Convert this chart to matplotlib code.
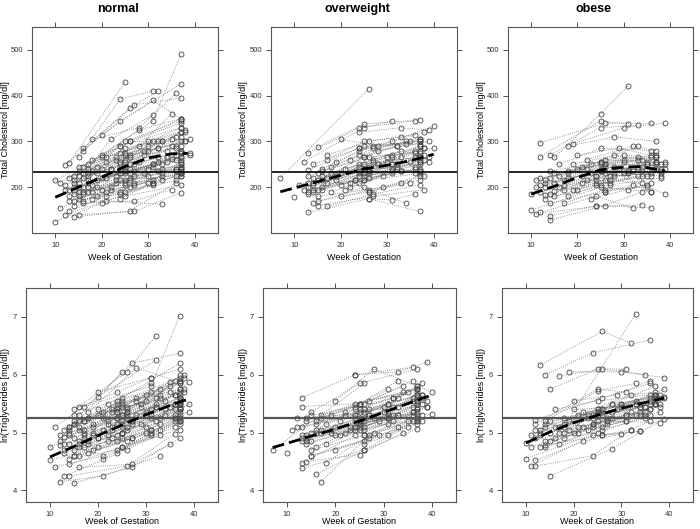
import numpy as np
import matplotlib.pyplot as plt

plt.rcParams['font.family'] = ['Liberation Sans', 'DejaVu Sans']

#--------------------
# data: one entry per woman, visits in weeks, cholesterol and ln(triglycerides)

groups = ["normal", "overweight", "obese"]

normal_weeks = [
    [10, 24, 37], [10, 20, 31], [11, 20, 32], [11, 21, 33], [12, 24, 37], [12, 21, 33],
    [13, 25], [13, 26, 37], [14, 26, 36], [15, 27, 37], [15, 24, 31], [16, 26, 32],
    [16, 27, 37], [17, 31, 37], [18, 28, 36], [20, 31, 37], [14, 22, 31], [15, 25, 35],
    [16, 24, 37], [14, 25, 37], [15, 26, 36], [16, 25, 37], [17, 27, 37], [14, 24, 36],
    [15, 25, 37], [16, 26, 38], [17, 26, 37], [18, 27, 37], [19, 29, 37], [20, 30, 38],
    [13, 24, 36], [14, 25, 37], [15, 24, 33], [16, 25, 36], [17, 25, 37], [18, 26, 37],
    [19, 30, 39], [20, 31, 39], [21, 31, 37], [22, 32, 38], [24, 33, 37], [25, 32, 37],
    [26, 34, 37], [24, 31, 36], [25, 33, 37], [12, 24, 35], [13, 22, 30], [14, 23, 32],
    [15, 25, 31], [16, 27, 35], [17, 24, 32], [18, 29, 37], [19, 27, 36], [16, 26, 37],
    [15, 23, 33], [20, 28, 37], [23, 30, 37], [14, 24, 37], [17, 25, 33], [21, 29, 36],
    [12, 22, 34], [13, 23, 35], [14, 26, 37], [15, 24, 37], [16, 25, 34], [17, 26, 36],
    [18, 28, 37], [19, 25, 37], [20, 27, 37], [21, 30, 38], [22, 31, 37], [23, 32, 37],
    [24, 30, 36], [13, 21, 31], [14, 25, 33], [16, 27, 37], [17, 28, 37], [18, 25, 35],
    [15, 26, 36], [19, 31, 39],
]
normal_chol = [
    [215, 290, 350], [125, 165, 210], [210, 265, 300], [155, 190, 225], [248, 345, 425], [140, 170, 163],
    [253, 430], [148, 200, 240], [135, 148, 210], [140, 147, 188], [265, 393, 410], [285, 372, 410],
    [280, 380, 395], [250, 345, 490], [305, 330, 405], [315, 390, 350], [200, 305, 358], [210, 260, 360],
    [230, 290, 330], [195, 235, 245], [175, 215, 240], [185, 230, 260], [200, 250, 280], [170, 185, 215],
    [190, 205, 230], [220, 270, 300], [210, 240, 265], [175, 205, 225], [230, 270, 310], [240, 290, 320],
    [180, 215, 225], [160, 180, 205], [200, 230, 250], [200, 255, 290], [230, 300, 345], [260, 300, 300],
    [245, 280, 305], [220, 250, 275], [180, 205, 230], [240, 285, 300], [255, 300, 320], [210, 235, 240],
    [230, 265, 255], [175, 210, 235], [190, 215, 225], [195, 230, 262], [170, 195, 210], [225, 260, 285],
    [235, 285, 300], [165, 170, 195], [215, 240, 265], [190, 230, 245], [200, 235, 270], [245, 300, 340],
    [180, 210, 230], [270, 325, 350], [225, 240, 275], [210, 250, 290], [190, 215, 240], [255, 280, 310],
    [205, 240, 280], [220, 265, 305], [185, 220, 250], [245, 275, 320], [190, 235, 255], [225, 265, 285],
    [205, 255, 275], [215, 245, 235], [195, 225, 250], [265, 300, 325], [200, 245, 265], [215, 255, 280],
    [190, 225, 240], [195, 220, 250], [215, 270, 300], [170, 210, 230], [240, 290, 330], [235, 275, 290],
    [225, 250, 260], [180, 215, 270],
]
normal_trig = [
    [4.75, 5.35, 5.85], [4.52, 4.75, 5.05], [5.10, 5.62, 6.25], [4.40, 4.60, 4.95], [4.78, 5.55, 6.20], [4.15, 4.25, 4.60],
    [4.93, 6.05], [4.25, 4.70, 5.20], [4.25, 4.42, 4.98], [4.13, 4.40, 4.90], [5.40, 5.70, 5.95], [5.45, 6.05, 6.67],
    [5.30, 6.20, 6.37], [5.45, 5.80, 7.02], [5.35, 6.12, 5.90], [5.70, 5.95, 6.10], [5.05, 5.50, 5.85], [4.90, 5.30, 5.88],
    [5.20, 5.50, 5.75], [5.00, 5.20, 5.35], [4.60, 4.85, 5.20], [4.85, 5.10, 5.45], [4.90, 5.20, 5.60], [4.55, 4.70, 5.10],
    [4.70, 4.90, 5.25], [5.05, 5.40, 5.70], [4.95, 5.25, 5.50], [4.65, 4.90, 5.15], [5.15, 5.45, 5.75], [5.30, 5.55, 5.95],
    [4.70, 4.95, 5.25], [4.45, 4.75, 5.05], [5.15, 5.40, 5.60], [4.80, 5.00, 5.40], [5.20, 5.55, 5.95], [5.25, 5.30, 5.55],
    [5.00, 5.30, 5.88], [4.90, 5.25, 5.35], [4.55, 4.95, 5.25], [5.15, 5.50, 5.75], [5.35, 5.65, 6.00], [5.00, 5.20, 5.30],
    [5.05, 5.30, 5.40], [4.65, 5.00, 5.25], [4.75, 5.05, 5.20], [4.85, 5.15, 5.45], [4.65, 4.85, 5.00], [5.10, 5.35, 5.60],
    [5.30, 5.60, 5.70], [4.40, 4.45, 4.80], [5.00, 5.25, 5.45], [4.80, 5.15, 5.50], [4.95, 5.20, 5.50], [5.10, 5.45, 5.65],
    [4.60, 4.90, 5.15], [5.40, 5.60, 5.90], [5.10, 5.35, 5.50], [4.95, 5.25, 5.60], [4.75, 5.00, 5.25], [5.25, 5.50, 5.65],
    [4.95, 5.20, 5.55], [5.05, 5.40, 5.80], [4.80, 5.10, 5.45], [5.15, 5.45, 5.90], [4.75, 5.15, 5.40], [5.05, 5.35, 5.65],
    [4.85, 5.30, 5.60], [5.10, 5.30, 5.40], [4.90, 5.15, 5.40], [5.35, 5.65, 6.00], [4.95, 5.30, 5.55], [5.05, 5.45, 5.70],
    [4.85, 5.10, 5.30], [4.80, 5.05, 5.40], [5.10, 5.45, 5.75], [4.60, 4.90, 5.20], [5.20, 5.55, 5.85], [5.25, 5.50, 5.70],
    [5.20, 5.35, 5.50], [4.70, 5.05, 5.50],
]

overweight_weeks = [
    [7, 26], [10], [11, 24, 33], [12, 25, 31], [13, 24, 36], [13, 26, 37],
    [13, 25, 37], [14, 25, 34], [15, 25, 37], [15, 27, 38], [16, 26, 35], [17, 27, 37],
    [17, 26, 36], [18, 28, 39], [20, 28, 40], [24, 33, 39], [13, 25, 37], [14, 24, 33],
    [15, 25, 36], [16, 27, 37], [13, 23, 31], [14, 26, 37], [15, 24, 34], [16, 25, 37],
    [17, 26, 38], [18, 27, 37], [19, 31, 40], [20, 29, 37], [21, 31, 39], [22, 32, 37],
    [24, 32, 37], [25, 33, 37], [26, 31, 36], [24, 31, 38], [13, 24, 32], [14, 25, 33],
    [15, 26, 37], [16, 24, 35], [17, 25, 33], [19, 28, 36], [12, 22, 32], [14, 24, 37],
    [20, 30, 38], [25, 31, 36], [22, 29, 37], [13, 25, 36], [14, 26, 37], [15, 25, 37],
    [16, 26, 38], [17, 27, 37], [18, 26, 36], [19, 27, 37], [20, 31, 39], [21, 30, 37],
    [23, 31, 38], [25, 32, 37], [26, 33, 38], [14, 24, 34], [15, 26, 35], [16, 25, 36],
    [13, 26, 37], [24, 31, 37],
]
overweight_chol = [
    [220, 415], [178], [205, 250, 280], [255, 330, 345], [275, 330, 345], [145, 175, 147],
    [238, 290, 300], [165, 200, 165], [288, 338, 347], [160, 180, 195], [200, 235, 255], [158, 185, 205],
    [270, 300, 315], [230, 280, 300], [305, 290, 333], [320, 330, 325], [200, 240, 250], [190, 225, 235],
    [215, 250, 265], [225, 260, 290], [185, 215, 230], [220, 245, 265], [230, 270, 300], [195, 225, 240],
    [210, 240, 285], [245, 285, 305], [225, 270, 285], [180, 200, 225], [195, 235, 255], [260, 290, 305],
    [210, 240, 260], [240, 265, 275], [175, 172, 185], [285, 300, 320], [210, 235, 250], [205, 215, 235],
    [180, 195, 215], [240, 280, 300], [260, 300, 310], [215, 250, 280], [195, 210, 245], [195, 245, 235],
    [230, 255, 270], [230, 250, 230], [200, 225, 235], [225, 265, 275], [210, 230, 255], [195, 215, 230],
    [235, 265, 285], [220, 255, 265], [190, 220, 240], [255, 290, 300], [205, 240, 265], [240, 265, 280],
    [215, 250, 260], [265, 290, 295], [190, 210, 225], [250, 285, 295], [170, 190, 210], [215, 240, 245],
    [190, 235, 255], [230, 265, 290],
]
overweight_trig = [
    [4.70, 5.85], [4.65], [5.05, 5.30, 5.60], [5.10, 5.50, 5.75], [5.60, 6.00, 6.13], [4.38, 4.70, 5.07],
    [5.45, 5.50, 5.75], [4.50, 4.62, 5.00], [5.35, 5.85, 6.10], [4.60, 4.90, 5.20], [4.28, 4.70, 5.10], [4.15, 4.95, 5.25],
    [5.25, 5.50, 5.90], [4.48, 5.00, 5.45], [5.55, 6.10, 5.70], [6.00, 6.05, 6.22], [4.90, 5.20, 5.40], [4.80, 5.05, 5.30],
    [5.00, 5.25, 5.45], [5.20, 5.30, 5.60], [4.85, 5.10, 5.25], [5.25, 5.35, 5.55], [5.30, 5.45, 5.80], [4.75, 5.10, 5.35],
    [5.00, 5.25, 5.60], [5.15, 5.40, 5.65], [5.05, 5.30, 5.32], [4.70, 4.95, 5.20], [4.95, 5.15, 5.45], [5.35, 5.60, 5.80],
    [5.10, 5.30, 5.50], [5.20, 5.45, 5.70], [4.80, 4.95, 5.20], [5.30, 5.50, 5.85], [4.47, 4.95, 5.20], [4.95, 5.15, 5.30],
    [4.60, 4.85, 5.15], [5.05, 5.40, 5.70], [5.30, 5.50, 5.90], [5.00, 5.25, 5.60], [5.25, 5.30, 5.45], [4.85, 5.10, 5.20],
    [5.10, 5.35, 5.65], [5.15, 5.25, 5.35], [5.00, 5.20, 5.30], [5.10, 5.35, 5.55], [4.90, 5.10, 5.40], [4.85, 5.05, 5.25],
    [5.15, 5.40, 5.65], [5.05, 5.30, 5.55], [4.80, 5.05, 5.35], [5.30, 5.55, 5.75], [4.95, 5.25, 5.55], [5.20, 5.45, 5.65],
    [5.05, 5.35, 5.50], [5.40, 5.60, 5.75], [4.95, 5.10, 5.30], [5.20, 5.50, 5.70], [4.70, 4.95, 5.20], [5.00, 5.20, 5.30],
    [4.95, 5.20, 5.45], [5.25, 5.50, 5.80],
]

obese_weeks = [
    [10, 25, 36], [11, 24, 34], [12, 26, 36], [12, 25, 31], [12, 24, 32], [13, 26, 32],
    [14, 24, 36], [14, 26, 34], [14, 25, 33], [15, 25, 31], [15, 28, 39], [17, 26, 35],
    [18, 28, 37], [19, 30, 39], [18, 33], [10, 22, 32], [11, 23, 34], [12, 25, 36],
    [13, 24, 33], [14, 26, 37], [15, 25, 34], [16, 27, 38], [17, 26, 35], [18, 27, 36],
    [19, 28, 37], [20, 30, 39], [21, 31, 38], [22, 32, 37], [24, 33, 38], [25, 34, 39],
    [26, 32, 36], [12, 22, 30], [13, 25, 35], [14, 24, 34], [16, 25, 36], [17, 28, 37],
    [19, 27, 35], [20, 29, 36], [11, 21, 31], [15, 26, 37], [18, 30, 38], [23, 31, 36],
    [12, 24, 35], [13, 26, 37], [14, 25, 36], [15, 27, 38], [16, 26, 37], [17, 25, 34],
    [18, 29, 39], [20, 28, 36], [21, 30, 37], [24, 31, 38], [25, 33, 37], [13, 23, 33],
    [14, 26, 35],
]
obese_chol = [
    [150, 200, 190], [142, 158, 162], [297, 340, 340], [267, 345, 338], [145, 180, 155], [182, 215, 235],
    [137, 160, 155], [128, 160, 190], [270, 330, 335], [265, 360, 422], [192, 230, 185], [195, 230, 250],
    [290, 310, 300], [295, 330, 340], [230, 290], [185, 215, 240], [215, 250, 260], [205, 235, 245],
    [175, 205, 225], [220, 260, 270], [230, 250, 235], [200, 225, 230], [165, 195, 200], [180, 215, 225],
    [250, 270, 255], [240, 255, 255], [210, 230, 240], [260, 290, 280], [225, 245, 235], [205, 225, 240],
    [190, 205, 190], [220, 240, 230], [200, 240, 255], [185, 215, 210], [250, 285, 280], [215, 245, 240],
    [195, 210, 225], [270, 285, 270], [200, 225, 235], [210, 250, 265], [235, 260, 250], [175, 195, 210],
    [190, 225, 250], [215, 245, 255], [235, 255, 265], [180, 205, 220], [225, 250, 250], [205, 235, 245],
    [220, 240, 250], [195, 225, 230], [245, 270, 265], [210, 230, 225], [255, 265, 255], [210, 230, 260],
    [165, 190, 205],
]
obese_trig = [
    [4.55, 5.00, 5.30], [4.42, 4.95, 5.02], [5.22, 5.60, 5.85], [5.15, 5.75, 5.70], [4.42, 4.60, 5.05], [6.17, 6.75, 6.55],
    [6.00, 6.38, 6.60], [4.78, 4.95, 5.02], [5.20, 5.72, 5.85], [5.75, 6.10, 6.10], [4.25, 4.72, 5.24], [5.98, 6.10, 6.00],
    [5.00, 5.50, 5.80], [6.05, 6.05, 5.95], [5.10, 7.05], [4.82, 5.10, 5.35], [4.95, 5.30, 5.50], [5.05, 5.40, 5.55],
    [4.75, 5.10, 5.30], [5.10, 5.40, 5.60], [5.20, 5.35, 5.45], [4.90, 5.20, 5.17], [4.80, 5.10, 5.30], [4.90, 5.25, 5.50],
    [5.20, 5.50, 5.60], [5.40, 5.45, 5.75], [5.10, 5.30, 5.45], [5.35, 5.65, 5.70], [5.30, 5.50, 5.60], [5.20, 5.35, 5.60],
    [4.95, 5.05, 5.20], [4.52, 4.85, 4.97], [4.95, 5.30, 5.45], [4.85, 5.15, 5.30], [5.40, 5.55, 5.65], [5.10, 5.35, 5.50],
    [5.05, 5.20, 5.35], [5.55, 5.65, 5.90], [4.75, 5.00, 5.20], [5.00, 5.35, 5.50], [5.25, 5.50, 5.65], [5.05, 5.20, 5.40],
    [4.90, 5.25, 5.45], [5.00, 5.30, 5.50], [5.15, 5.40, 5.60], [4.85, 5.15, 5.35], [5.10, 5.40, 5.55], [5.00, 5.30, 5.45],
    [5.15, 5.40, 5.62], [5.00, 5.25, 5.40], [5.30, 5.50, 5.65], [5.15, 5.30, 5.50], [5.35, 5.55, 5.65], [5.05, 5.25, 5.50],
    [4.75, 5.05, 5.25],
]

# smoothed group trend
normal_smooth_weeks = [10, 15, 20, 25, 30, 35, 38.5]
normal_smooth_chol = [178, 200, 222, 245, 264, 273, 274]
normal_smooth_trig = [4.58, 4.76, 4.95, 5.13, 5.31, 5.47, 5.57]

overweight_smooth_weeks = [7, 15, 20, 25, 30, 35, 40]
overweight_smooth_chol = [190, 212, 226, 240, 248, 258, 272]
overweight_smooth_trig = [4.74, 4.94, 5.06, 5.20, 5.35, 5.50, 5.65]

obese_smooth_weeks = [10, 15, 20, 25, 30, 33, 36, 39]
obese_smooth_chol = [185, 202, 221, 238, 244, 245, 241, 235]
obese_smooth_trig = [4.82, 5.01, 5.17, 5.30, 5.42, 5.48, 5.54, 5.60]

chol_ref = 234
trig_ref = 5.26

weeks_all = [normal_weeks, overweight_weeks, obese_weeks]
chol_all = [normal_chol, overweight_chol, obese_chol]
trig_all = [normal_trig, overweight_trig, obese_trig]
smooth_weeks = [normal_smooth_weeks, overweight_smooth_weeks, obese_smooth_weeks]
smooth_chol = [normal_smooth_chol, overweight_smooth_chol, obese_smooth_chol]
smooth_trig = [normal_smooth_trig, overweight_smooth_trig, obese_smooth_trig]

#--------------------
# layout (pixel boxes: left, right, top, bottom) and label positions in px

W, H = 700, 529
top_boxes = [(32, 218, 27, 233), (271, 457, 27, 233), (508, 693, 27, 233)]
bot_boxes = [(26, 218, 288, 502), (263, 456, 288, 502), (502, 693, 288, 502)]
top_ylab_x = [6, 243, 481]
bot_ylab_x = [6, 243, 481]
top_xlab_y = 257
bot_xlab_y = 522
frame_col = '#555555'


def make_axes(fig, box):
    l, r, t, b = box
    return fig.add_axes([l / W, 1 - b / H, (r - l) / W, (b - t) / H])


def draw_panel(ax, box, ylab_x, xlab_y, weeks, values, sw, sv, ref, ref_col, ref_lw,
               ylim, yticks, ylabel):
    for w, v in zip(weeks, values):
        ax.plot(w, v, linestyle=':', color='#777777', linewidth=0.6,
                marker='o', markersize=3.6, markerfacecolor='none',
                markeredgecolor='#444444', markeredgewidth=0.6)
    ax.axhline(ref, color=ref_col, linewidth=ref_lw)
    ax.plot(sw, sv, color='black', linewidth=2.0, dashes=(4.3, 1.8))
    ax.set_xlim(5, 45)
    ax.set_ylim(*ylim)
    ax.set_xticks([10, 20, 30, 40])
    ax.set_yticks(yticks)
    ax.tick_params(top=True, right=True, direction='out', length=3.5, width=0.6,
                   labelsize=5.5, pad=3, colors='#333333')
    for s in ax.spines.values():
        s.set_color(frame_col)
        s.set_linewidth(0.8)
    l, r, t, b = box
    ax.set_xlabel('Week of Gestation', fontsize=6.5, va='center')
    ax.xaxis.set_label_coords(0.5, (b - xlab_y) / (b - t))
    ax.set_ylabel(ylabel, fontsize=6.5, va='center')
    ax.yaxis.set_label_coords((ylab_x - l) / (r - l), 0.5)


def draw_graph():
    fig = plt.figure(figsize=(7, 5.29), dpi=100)
    for i, g in enumerate(groups):
        ax = make_axes(fig, top_boxes[i])
        draw_panel(ax, top_boxes[i], top_ylab_x[i], top_xlab_y,
                   weeks_all[i], chol_all[i], smooth_weeks[i], smooth_chol[i],
                   chol_ref, 'black', 1.2, (100, 550), [200, 300, 400, 500],
                   'Total Cholesterol [mg/dl]')
        l, r, t, b = top_boxes[i]
        fig.text((l + r) / 2 / W - 0.01, 1 - 9 / H, g, ha='center', va='center',
                 fontsize=9, fontweight='bold')

        ax2 = make_axes(fig, bot_boxes[i])
        draw_panel(ax2, bot_boxes[i], bot_ylab_x[i], bot_xlab_y,
                   weeks_all[i], trig_all[i], smooth_weeks[i], smooth_trig[i],
                   trig_ref, '#555555', 1.6, (3.8, 7.5), [4, 5, 6, 7],
                   'ln(Triglycerides [mg/dl])')

    fig.savefig('out.png', dpi=100)


if __name__ == "__main__":
    draw_graph()
